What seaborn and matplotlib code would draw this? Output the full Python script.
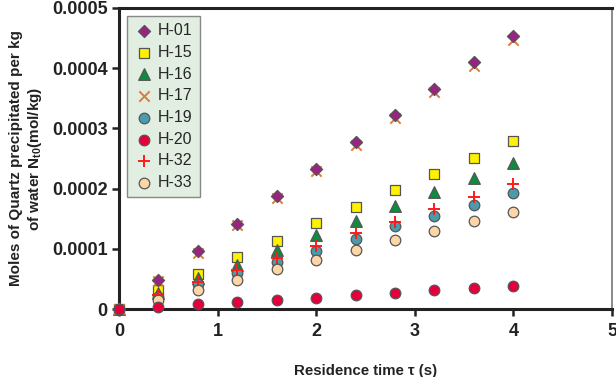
import numpy as np
import pandas as pd
import matplotlib
matplotlib.use("Agg")
import matplotlib.pyplot as plt
import seaborn as sns

# residence time (s)
tau = [0, 0.4, 0.8, 1.2, 1.6, 2.0, 2.4, 2.8, 3.2, 3.6, 4.0]

# moles of quartz precipitated per kg of water
h01 = [0, 0.000049, 0.000096, 0.000142, 0.000187, 0.000233, 0.000277, 0.000322, 0.000366, 0.000410, 0.000454]
h15 = [0, 0.000032, 0.000059, 0.000087, 0.000113, 0.000143, 0.000170, 0.000197, 0.000224, 0.000251, 0.000279]
h16 = [0, 0.000026, 0.000052, 0.000073, 0.000098, 0.000123, 0.000147, 0.000172, 0.000194, 0.000218, 0.000242]
h17 = [0, 0.000047, 0.000094, 0.000139, 0.000184, 0.000229, 0.000273, 0.000317, 0.000361, 0.000404, 0.000447]
h19 = [0, 0.000020, 0.000041, 0.000060, 0.000079, 0.000097, 0.000116, 0.000138, 0.000154, 0.000173, 0.000193]
h20 = [0, 0.000004, 0.000008, 0.000012, 0.000016, 0.000019, 0.000023, 0.000026, 0.000031, 0.000035, 0.000038]
h32 = [0, 0.000024, 0.000045, 0.000065, 0.000085, 0.000105, 0.000126, 0.000145, 0.000166, 0.000186, 0.000207]
h33 = [0, 0.000016, 0.000032, 0.000048, 0.000066, 0.000081, 0.000098, 0.000115, 0.000130, 0.000146, 0.000162]

labels = ["H-01", "H-15", "H-16", "H-17", "H-19", "H-20", "H-32", "H-33"]
series = [h01, h15, h16, h17, h19, h20, h32, h33]
markers = ["D", "s", "^", "x", "o", "o", "+", "o"]
colors = ["#9a2282", "#fff200", "#0b8c3e", "#e07a38", "#4b9bab", "#e5003c", "#ff1a1a", "#fdd6a8"]
sizes = [38, 60, 70, 55, 58, 58, 70, 58]
zorders = [4, 3, 3, 3, 3, 5, 3, 3]

sns.set_style("white")
plt.rcParams["font.family"] = ["Liberation Sans", "DejaVu Sans"]
plt.rcParams["mathtext.fontset"] = "custom"
plt.rcParams["mathtext.rm"] = "Liberation Sans:bold"
plt.rcParams["mathtext.it"] = "Liberation Sans:bold"

fig, ax = plt.subplots(figsize=(6.16, 3.77), dpi=100)
fig.subplots_adjust(left=0.193, right=0.9935, bottom=0.180, top=0.979)

for lab, y, m, c, s, z in zip(labels, series, markers, colors, sizes, zorders):
    df = pd.DataFrame({"tau": tau, "N": y})
    if m in ("x", "+"):
        sns.scatterplot(data=df, x="tau", y="N", marker=m, color=c, s=s,
                        linewidth=1.4, label=lab, ax=ax, clip_on=False, zorder=z)
    else:
        sns.scatterplot(data=df, x="tau", y="N", marker=m, color=c, s=s,
                        edgecolor="#555555", linewidth=0.9, label=lab, ax=ax,
                        clip_on=False, zorder=z)

ax.set_xlim(0, 5)
ax.set_ylim(0, 0.0005)
ax.set_xticks([0, 1, 2, 3, 4, 5])
ax.set_yticks([0, 0.0001, 0.0002, 0.0003, 0.0004, 0.0005])
ax.set_yticklabels(["0", "0.0001", "0.0002", "0.0003", "0.0004", "0.0005"])
ax.tick_params(axis="both", direction="out", length=5, width=1.8, color="#222222",
               labelsize=13, bottom=True, left=True)
ax.tick_params(axis="x", pad=5)
ax.tick_params(axis="y", pad=3)
for t in ax.get_xticklabels() + ax.get_yticklabels():
    t.set_fontweight("bold")
    t.set_color("#222222")

for side in ["left", "bottom", "top"]:
    ax.spines[side].set_linewidth(2.2)
    ax.spines[side].set_color("#222222")
ax.spines["right"].set_linewidth(1.2)
ax.spines["right"].set_color("#777777")

ax.set_xlabel("Residence time \u03c4 (s)", fontsize=10.8, fontweight="bold",
              color="#222222", labelpad=17)
ax.set_ylabel("Moles of Quartz precipitated per kg\nof water N$_{t0}$(mol/kg)",
              fontsize=11, fontweight="bold", color="#222222", labelpad=6)

leg = ax.legend(loc="upper left", bbox_to_anchor=(0.016, 0.973), borderaxespad=0,
                fontsize=11.5, frameon=True, fancybox=False, framealpha=1,
                handletextpad=0.3, labelspacing=0.42, borderpad=0.45,
                handlelength=1.2, facecolor="#e1eee1", edgecolor="#888888")
leg.get_frame().set_linewidth(1.0)

fig.savefig("out.png", dpi=100)
